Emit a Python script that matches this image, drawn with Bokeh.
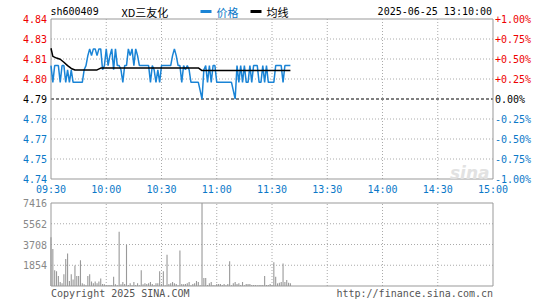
from bokeh.plotting import figure
from bokeh.models import Range1d
from bokeh.layouts import column
from bokeh.core.properties import value
from bokeh.embed import file_html
from bokeh.resources import INLINE

# ---------------- data ----------------
symbol = "sh600409"
name = "XD三友化"
timestamp = "2025-06-25 13:10:00"
legend_price = "价格"
legend_avg = "均线"
copyright_left = "Copyright 2025 SINA.COM"
copyright_right = "http://finance.sina.com.cn"
prev_close = 4.79
time_labels = ["09:30", "10:00", "10:30", "11:00", "11:30", "13:30", "14:00", "14:30", "15:00"]
price_tick_labels = ["4.84", "4.83", "4.81", "4.80", "4.79", "4.78", "4.77", "4.75", "4.74"]
pct_tick_labels = ["+1.00%", "+0.75%", "+0.50%", "+0.25%", "0.00%", "-0.25%", "-0.50%", "-0.75%", "-1.00%"]
vol_tick_values = [7416, 5562, 3708, 1854]
vol_tick_labels = ["7416", "5562", "3708", "1854"]
vol_max = 7416

price = [
    4.81, 4.80, 4.81, 4.81, 4.81, 4.80, 4.81, 4.81, 4.80, 4.8075,
    4.80, 4.8075, 4.80, 4.80, 4.80, 4.80, 4.80, 4.80, 4.8075, 4.81,
    4.816, 4.82, 4.816, 4.82, 4.82, 4.816, 4.82, 4.82, 4.8075, 4.81,
    4.82, 4.81, 4.816, 4.82, 4.8075, 4.82, 4.81, 4.81, 4.8075, 4.80,
    4.81, 4.81, 4.82, 4.816, 4.82, 4.81, 4.82, 4.816, 4.81, 4.81,
    4.81, 4.81, 4.81, 4.81, 4.80, 4.81, 4.8075, 4.80, 4.8075, 4.80,
    4.81, 4.81, 4.81, 4.81, 4.81, 4.81, 4.816, 4.82, 4.816, 4.81,
    4.81, 4.80, 4.81, 4.8075, 4.81, 4.8075, 4.80, 4.80, 4.80, 4.80,
    4.80, 4.795, 4.79, 4.8075, 4.81, 4.80, 4.81, 4.80, 4.81, 4.81,
    4.80, 4.80, 4.80, 4.80, 4.80, 4.80, 4.80, 4.80, 4.80, 4.795,
    4.79, 4.81, 4.80, 4.81, 4.80, 4.81, 4.80, 4.80, 4.81, 4.80,
    4.81, 4.81, 4.81, 4.80, 4.80, 4.81, 4.80, 4.81, 4.80, 4.80,
    4.80, 4.80, 4.81, 4.81, 4.81, 4.81, 4.80, 4.81, 4.81, 4.81,
    4.81,
]

volume = [
    4350, 3305, 1413, 1324, 883, 353, 235, 1060, 2413, 2914,
    441, 1060, 589, 1825, 883, 883, 2296, 235, 147, 60,
    883, 1060, 412, 235, 412, 235, 412, 677, 177, 147,
    60, 88, 88, 88, 824, 147, 60, 4856, 147, 353,
    177, 3679, 88, 235, 60, 353, 88, 235, 60, 1413,
    147, 235, 177, 235, 353, 177, 60, 235, 235, 1324,
    177, 1324, 60, 2796, 177, 235, 353, 235, 177, 60,
    3178, 177, 147, 177, 235, 353, 60, 177, 235, 441,
    353, 60, 7416, 706, 706, 88, 235, 353, 88, 60,
    177, 177, 177, 88, 177, 60, 177, 2207, 60, 235,
    353, 177, 235, 88, 353, 60, 177, 177, 177, 88,
    88, 88, 60, 88, 88, 88, 883, 88, 88, 177,
    60, 2119, 824, 235, 294, 353, 2001, 353, 530, 294,
    235,
]

avg_minutes = [0, 1, 3, 5, 7, 9, 11, 13, 25, 27, 80, 82, 130]
avg_values = [4.8204, 4.8155, 4.8145, 4.8138, 4.8120, 4.8100, 4.8083, 4.8074,
              4.8074, 4.8085, 4.8086, 4.8070, 4.8070]

minutes = list(range(len(price)))

# ---------------- styling / geometry ----------------
MONO = "DejaVu Sans Mono"
CJK = "Noto Sans CJK SC"
RED = "#ee0000"
BLUE_TXT = "#0a78c8"
BLUE_LINE = "#1a84d6"
GRID = "#aaaaaa"
FRAME = "#999999"

W = 545
X_MAX = 240
PX0, PX1 = 50.5, 492.5          # pixel of 09:30 and 15:00
ppm = (PX1 - PX0) / X_MAX
x_start = -PX0 / ppm
x_end = X_MAX + (W - PX1) / ppm


def xd(px):
    return x_start + px / ppm


# price panel
H1 = 196
PT, PB = 18.5, 178.5
lo, hi = prev_close * 0.99, prev_close * 1.01
ppu = (PB - PT) / (hi - lo)
y1_end = hi + PT / ppu
y1_start = lo - (H1 - PB) / ppu


def yd1(py):
    return y1_end - py / ppu


def make_fig(h, yr):
    f = figure(width=W, height=h, x_range=Range1d(x_start, x_end), y_range=yr,
               x_axis_location=None, y_axis_location=None, toolbar_location=None,
               output_backend="svg", min_border=0)
    f.min_border_left = f.min_border_right = f.min_border_top = f.min_border_bottom = 0
    f.grid.grid_line_color = None
    f.outline_line_color = None
    f.background_fill_color = "white"
    f.border_fill_color = "white"
    return f


def txt(f, x, y, s, align, color, font=MONO, size="10px", style="normal", baseline="middle"):
    f.text(x=[x], y=[y], text=[s], text_align=align, text_baseline=baseline,
           text_font=value(font), text_font_size=size, text_color=color,
           text_font_style=style)


p = make_fig(H1, Range1d(y1_start, y1_end))

# vertical grid
vx = [30 * k for k in range(1, 8)]
p.segment(x0=vx, y0=[lo] * 7, x1=vx, y1=[hi] * 7, line_color=GRID, line_dash="1 2", line_width=1)

tick_vals = [prev_close * (1 + 0.0025 * k) for k in range(4, -5, -1)]
for i, tv in enumerate(tick_vals):
    kk = 4 - i
    if kk == 0:
        p.segment(x0=[0], y0=[tv], x1=[X_MAX], y1=[tv], line_color="black",
                  line_dash="3 2", line_width=1)
    elif abs(kk) < 4:
        p.segment(x0=[0], y0=[tv], x1=[X_MAX], y1=[tv], line_color=GRID,
                  line_dash="1 2", line_width=1)
    col = RED if kk > 0 else ("black" if kk == 0 else BLUE_TXT)
    txt(p, xd(46.5), tv, price_tick_labels[i], "right", col)
    txt(p, xd(494.5), tv, pct_tick_labels[i], "left", col)

# frame
p.quad(left=[0], right=[X_MAX], bottom=[lo], top=[hi], fill_color=None,
       line_color=FRAME, line_width=1)

for i, t in enumerate(time_labels):
    txt(p, 30 * i, yd1(189), t, "center", BLUE_TXT)

# watermark
txt(p, xd(489), yd1(172), "sina", "right", "#e2e2e2", font="DejaVu Sans", size="17px",
    style="bold italic", baseline="alphabetic")

# header
yh = yd1(11)
txt(p, xd(50), yh, symbol, "left", "black")
txt(p, xd(121), yh, name, "left", "black", font=CJK, size="11px")
p.segment(x0=[xd(200)], y0=[yh], x1=[xd(211)], y1=[yh], line_color=BLUE_LINE, line_width=3)
txt(p, xd(216), yh, legend_price, "left", BLUE_TXT, font=CJK, size="11px")
p.segment(x0=[xd(250)], y0=[yh], x1=[xd(261)], y1=[yh], line_color="black", line_width=3)
txt(p, xd(266), yh, legend_avg, "left", "black", font=CJK, size="11px")
txt(p, xd(491.5), yh, timestamp, "right", "black")

p.line(minutes, price, line_color=BLUE_LINE, line_width=1.5)
p.line(avg_minutes, avg_values, line_color="black", line_width=1.5)

# ---------------- volume panel ----------------
H2 = 104
VT, VB = 6.5, 89.5
vpp = vol_max / (VB - VT)
y2_end = vol_max + VT * vpp
y2_start = -(H2 - VB) * vpp


def yd2(py):
    return y2_end - py * vpp


p2 = make_fig(H2, Range1d(y2_start, y2_end))
p2.segment(x0=vx, y0=[0] * 7, x1=vx, y1=[vol_max] * 7, line_color=GRID, line_dash="1 2", line_width=1)
for v, t in zip(vol_tick_values, vol_tick_labels):
    if v < vol_max:
        p2.segment(x0=[0], y0=[v], x1=[X_MAX], y1=[v], line_color=GRID,
                   line_dash="1 2", line_width=1)
    txt(p2, xd(46.5), v, t, "right", "#888888")

p2.vbar(x=minutes, top=volume, width=0.6, fill_color="#999999", line_color=None)
p2.quad(left=[0], right=[X_MAX], bottom=[0], top=[vol_max], fill_color=None,
        line_color=FRAME, line_width=1)

yc = yd2(97)
txt(p2, 0, yc, copyright_left, "left", "#555555")
txt(p2, X_MAX, yc, copyright_right, "right", "#555555")

layout = column(p, p2, spacing=0)
open("out.html", "w").write(file_html(layout, INLINE))
